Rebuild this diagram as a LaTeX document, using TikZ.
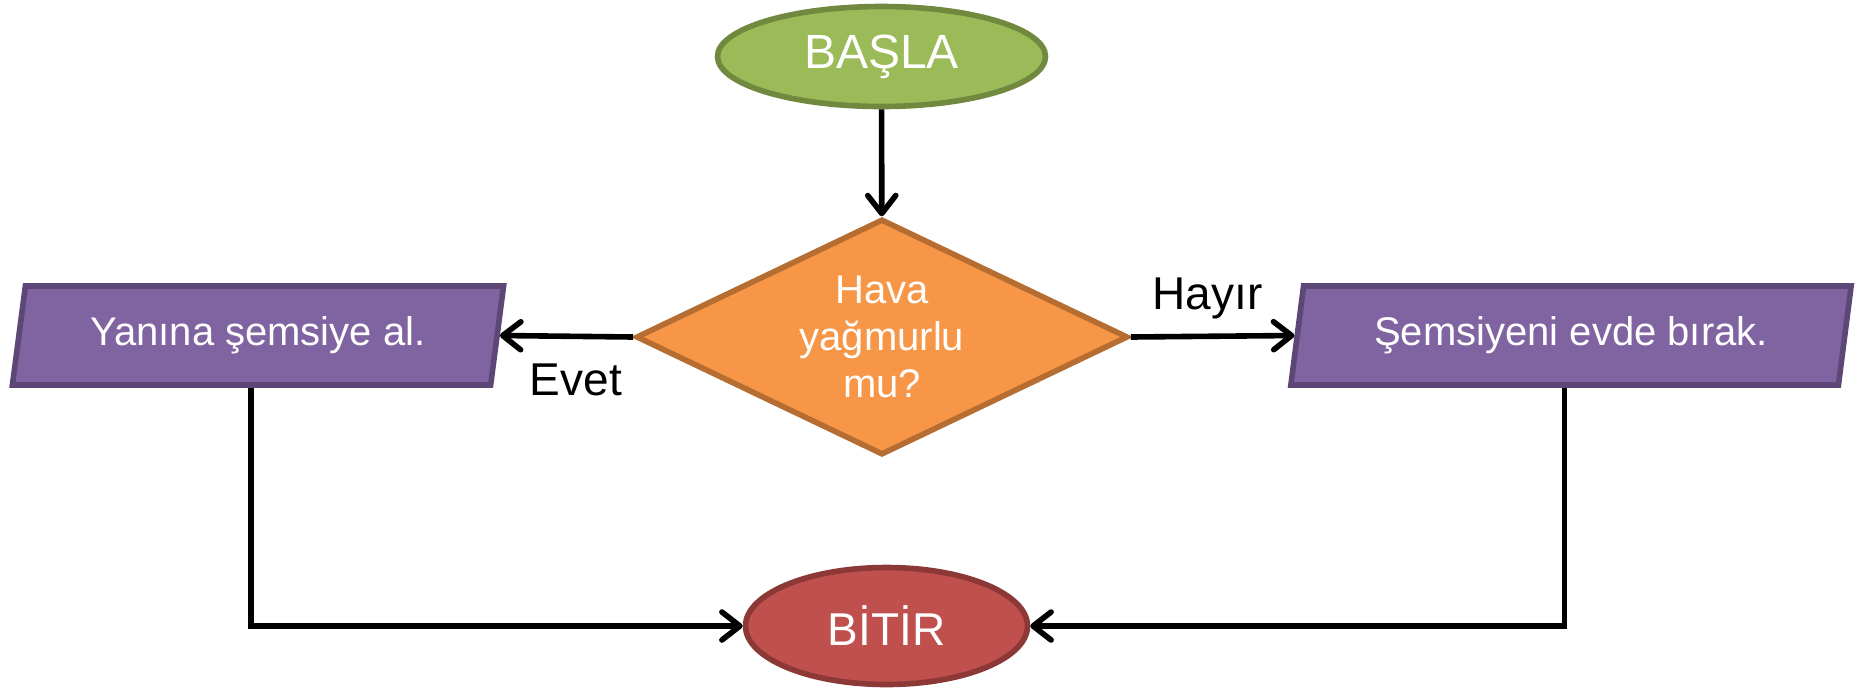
\documentclass[tikz,border=0pt]{standalone}
\usepackage{fontspec}
\setmainfont{Liberation Sans}
\usepackage{tikz}
\usetikzlibrary{shapes.geometric, arrows.meta, positioning, calc}

\definecolor{basgreen}{HTML}{9BBB59}
\definecolor{basgreenline}{HTML}{71893F}
\definecolor{soruorange}{HTML}{F79646}
\definecolor{soruorangeline}{HTML}{B66D31}
\definecolor{islempurple}{HTML}{8064A2}
\definecolor{islempurpleline}{HTML}{5C4776}
\definecolor{bitred}{HTML}{C0504D}
\definecolor{bitredline}{HTML}{8C3836}

\begin{document}
\begin{tikzpicture}[x=0.5pt, y=-0.5pt,
  >={Straight Barb[length=9pt, width=14pt, round]},
  terminal/.style={draw, ellipse, line width=2.8pt, text=white, inner sep=0pt},
  islem/.style={draw, trapezium, trapezium left angle=76, trapezium right angle=104,
    trapezium stretches=true, line width=2.8pt, fill=islempurple, draw=islempurpleline,
    text=white, font=\fontsize{20}{24}\selectfont, inner sep=0pt},
  akis/.style={->, line width=2.8pt, black}]
\useasboundingbox (0,0) rectangle (1859,693);

% Start and decision
\node[terminal, fill=basgreen, draw=basgreenline, minimum width=164pt, minimum height=50pt,
  font=\fontsize{24}{28}\selectfont] (basla) at (881.5,56.5) {BAŞLA};
\node[draw, diamond, aspect=2.05, fill=soruorange, draw=soruorangeline, line width=2.8pt, text=white,
  minimum width=246pt, minimum height=118pt, inner sep=0pt, align=center,
  font=\fontsize{20}{23.5}\selectfont] (soru) at (882,337) {Hava\\yağmurlu\\mu?};

\draw[akis] (basla) -- (soru);

% Two branches
\node[islem, minimum width=246pt, minimum height=49.5pt] (evet) at (258,335.5) {Yanına şemsiye al.};
\node[islem, minimum width=281pt, minimum height=49.5pt] (hayir) at (1571,335.5) {Şemsiyeni evde bırak.};

\draw[akis] (soru.west) -- (evet.east) node[pos=0.43, below=9pt, font=\fontsize{23}{27}\selectfont] {Evet};
\draw[akis] (soru.east) -- (hayir.west) node[pos=0.47, above=4pt, font=\fontsize{23}{27}\selectfont] {Hayır};

% End
\node[terminal, fill=bitred, draw=bitredline, minimum width=141pt, minimum height=58.5pt,
  font=\fontsize{23}{27}\selectfont] (bitir) at (886.5,626) {BİTİR};

\coordinate (evetalt) at ($(evet.bottom left corner)!0.5!(evet.bottom right corner)$);
\coordinate (hayiralt) at ($(hayir.bottom left corner)!0.5!(hayir.bottom right corner)$);
\draw[akis] (evetalt) |- (bitir.west);
\draw[akis] (hayiralt) |- (bitir.east);
\end{tikzpicture}
\end{document}
